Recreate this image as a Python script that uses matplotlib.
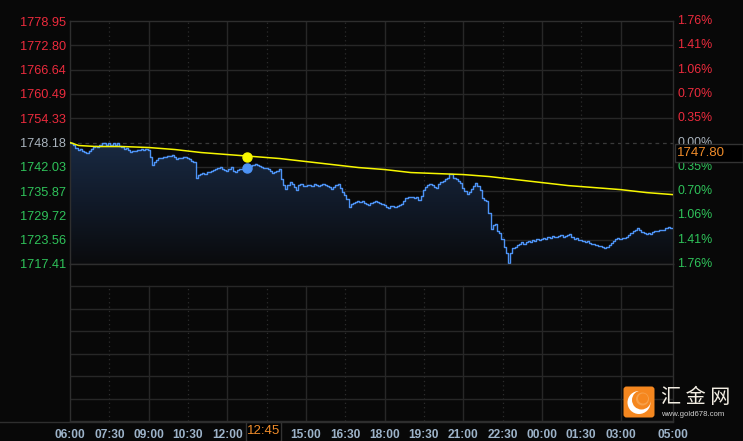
import numpy as np
import matplotlib
matplotlib.use('Agg')
import matplotlib.pyplot as plt
from matplotlib.colors import LinearSegmentedColormap
from matplotlib.patches import FancyBboxPatch, Rectangle, Circle
from matplotlib.lines import Line2D

# price ticks (left) and percent labels (right)
base = 1748.18
price_ticks = [1778.95, 1772.80, 1766.64, 1760.49, 1754.33, 1748.18,
               1742.03, 1735.87, 1729.72, 1723.56, 1717.41]
pct_labels = ['1.76%', '1.41%', '1.06%', '0.70%', '0.35%', '0.00%',
              '0.35%', '0.70%', '1.06%', '1.41%', '1.76%']

# x axis: hours after 06:00
xtick_pos = [0, 1.5, 3, 4.5, 6, 9, 10.5, 12, 13.5, 15, 16.5, 18, 19.5, 21, 23]
xtick_lbl = ['06:00', '07:30', '09:00', '10:30', '12:00', '15:00', '16:30', '18:00',
             '19:30', '21:00', '22:30', '00:00', '01:30', '03:00', '05:00']
solid_v = [3, 6, 9, 12, 15, 18, 21]
dotted_v = [1.5, 4.5, 7.5, 10.5, 13.5, 16.5, 19.5]

# gold price, one value every 5 minutes from 06:00
price = [
    1747.93, 1748.18, 1747.67, 1746.91, 1746.40, 1746.66, 1746.15, 1745.90, 1745.64, 1746.15, 1746.66, 1747.16,
    1747.42, 1747.16, 1747.67, 1747.93, 1748.18, 1747.67, 1747.93, 1747.67, 1747.93, 1747.67, 1747.93, 1747.42,
    1747.16, 1746.66, 1746.91, 1746.40, 1745.90, 1746.15, 1746.15, 1746.40, 1746.40, 1746.66, 1746.40, 1746.66,
    1746.40, 1744.63, 1742.60, 1743.36, 1743.87, 1744.37, 1744.37, 1744.63, 1744.63, 1744.88, 1744.88, 1745.13,
    1744.63, 1744.12, 1744.37, 1744.37, 1744.63, 1744.63, 1744.37, 1744.12, 1743.61, 1743.36, 1739.30, 1740.06,
    1740.31, 1740.57, 1740.31, 1740.82, 1740.82, 1741.07, 1741.33, 1741.58, 1741.84, 1742.09, 1741.58, 1741.33,
    1741.07, 1741.58, 1742.09, 1741.07, 1740.82, 1741.33, 1741.58, 1741.58, 1741.84, 1741.84, 1742.09, 1742.34,
    1742.60, 1742.85, 1742.60, 1742.34, 1742.09, 1741.84, 1741.84, 1741.58, 1741.07, 1740.57, 1740.82, 1741.07,
    1741.58, 1739.04, 1737.52, 1736.51, 1737.52, 1738.28, 1737.77, 1737.01, 1736.25, 1737.52, 1737.77, 1737.27,
    1737.27, 1737.52, 1737.52, 1737.27, 1737.77, 1737.52, 1737.27, 1737.52, 1737.77, 1737.52, 1737.27, 1737.01,
    1736.51, 1737.01, 1737.52, 1737.77, 1736.76, 1735.74, 1734.98, 1733.97, 1731.94, 1732.70, 1732.95, 1733.21,
    1733.46, 1733.21, 1733.46, 1732.95, 1732.70, 1732.44, 1732.95, 1733.21, 1733.46, 1733.21, 1732.95, 1732.70,
    1732.44, 1731.94, 1731.68, 1732.19, 1732.19, 1731.94, 1732.19, 1732.44, 1732.70, 1733.46, 1734.22, 1734.47,
    1734.47, 1734.47, 1734.22, 1734.47, 1733.71, 1734.73, 1736.25, 1737.01, 1737.52, 1737.77, 1737.52, 1737.01,
    1736.76, 1737.77, 1738.28, 1738.54, 1739.04, 1739.30, 1740.31, 1740.31, 1739.30, 1739.04, 1738.54, 1738.03,
    1736.76, 1736.00, 1735.24, 1735.74, 1736.51, 1737.27, 1738.03, 1737.27, 1736.25, 1734.22, 1733.71, 1733.46,
    1730.41, 1726.35, 1727.37, 1727.62, 1725.85, 1725.34, 1723.82, 1721.78, 1720.26, 1717.72, 1720.26, 1721.53,
    1721.78, 1722.29, 1722.55, 1723.05, 1722.55, 1723.05, 1723.31, 1723.05, 1723.56, 1723.31, 1723.82, 1723.56,
    1723.82, 1724.07, 1723.82, 1724.32, 1724.07, 1724.58, 1724.32, 1724.32, 1724.58, 1724.83, 1724.32, 1724.58,
    1724.83, 1725.08, 1724.32, 1723.82, 1724.07, 1723.56, 1723.56, 1723.31, 1723.05, 1723.31, 1722.80, 1722.55,
    1722.55, 1722.29, 1722.04, 1722.04, 1721.78, 1721.53, 1721.78, 1722.29, 1722.80, 1723.31, 1723.82, 1724.07,
    1723.82, 1724.07, 1724.07, 1724.32, 1724.83, 1725.34, 1725.85, 1726.10, 1726.61, 1726.10, 1725.59, 1725.34,
    1725.08, 1725.34, 1725.08, 1725.59, 1725.85, 1725.85, 1726.10, 1726.10, 1726.10, 1726.61, 1726.86, 1726.61,
    1726.61,
]
t = np.arange(len(price)) * 5 / 60.0

# average price line
avg_t = [0, 0.33, 1, 2, 3, 4, 5, 6, 7, 8, 9, 10, 11, 12, 13, 14, 15, 16, 17, 18, 19, 20, 21, 22, 23]
avg_p = [1748.18, 1747.42, 1747.16, 1747.16, 1746.91, 1746.40, 1745.64, 1745.13, 1744.63, 1744.12,
         1743.36, 1742.60, 1741.84, 1741.33, 1740.57, 1740.31, 1740.06, 1739.55, 1738.79, 1738.03,
         1737.27, 1736.76, 1736.25, 1735.49, 1734.98]

cross_t = 6.75
cross_avg = 1744.63
cross_price = 1741.84
cursor_price = '1747.80'
cursor_time = '12:45'

BG = '#080808'
GRID = '#272727'
RED = '#ec2b3d'
GREEN = '#2fc35a'
GRAY = '#a9b3bd'
XLAB = '#9db3c9'
BLUE = '#4d93f5'
YEL = '#f7f700'
ORANGE = '#f08c2a'

W, H = 743, 441
fig = plt.figure(figsize=(W / 100, H / 100), dpi=100, facecolor=BG)

def fx(px):
    return px / W

def fy(py):
    return 1 - py / H

L, R = 70, 673
ax = fig.add_axes([fx(L), fy(264), fx(R - L), (264 - 21) / H], facecolor=BG)
ax2 = fig.add_axes([fx(L), fy(421), fx(R - L), (421 - 264) / H], facecolor=BG)

ymin, ymax = price_ticks[-1], price_ticks[0]
for a in (ax, ax2):
    a.set_xlim(0, 23)
    for s in a.spines.values():
        s.set_color('#2e2e2e')
        s.set_linewidth(1)

ax.set_ylim(ymin, ymax)

# grid, main panel
for p in price_ticks[1:-1]:
    if p == base:
        ax.axhline(p, color='#3a3a3a', lw=0.9, ls=(0, (3, 3)), zorder=0.5)
    else:
        ax.axhline(p, color=GRID, lw=1, zorder=0.5)
for v in solid_v:
    ax.axvline(v, color=GRID, lw=1, zorder=0.5)
    ax2.axvline(v, ymax=6 / 7, color=GRID, lw=1, zorder=0.5)
for v in dotted_v:
    ax.axvline(v, color='#2c2c2c', lw=0.9, ls=(0, (1, 2.5)), zorder=0.5)
    ax2.axvline(v, ymax=6 / 7, color='#2c2c2c', lw=0.9, ls=(0, (1, 2.5)), zorder=0.5)

# lower panel grid
ax2.set_ylim(0, 7)
for k in range(1, 7):
    ax2.axhline(k, color=GRID, lw=1, zorder=0.5)

# gradient fill under price line
cmap = LinearSegmentedColormap.from_list('fillgrad', ['#0a0b0d', '#111a29', '#192a43'])
grad = np.linspace(0, 1, 256).reshape(-1, 1)
img = ax.imshow(grad, extent=[0, 23, ymin, 1748.6], origin='lower', aspect='auto',
                cmap=cmap, zorder=1)
poly = ax.fill_between(t, price, ymin, step='mid', color='none', lw=0)
img.set_clip_path(poly.get_paths()[0], transform=ax.transData)
ax.set_ylim(ymin, ymax)
ax.set_xlim(0, 23)

ax.plot(t, price, color=BLUE, lw=1.0, drawstyle='steps-mid', zorder=3)
ax.plot(avg_t, avg_p, color=YEL, lw=1.1, zorder=3)
ax.plot([cross_t], [cross_avg], 'o', color=YEL, ms=6.5, zorder=4)
ax.plot([cross_t], [cross_price], 'o', color=BLUE, ms=6.5, zorder=4)

# left tick labels
ax.set_yticks(price_ticks)
ax.set_yticklabels(['%.2f' % p for p in price_ticks], fontsize=9.2, family='Liberation Sans')
ax.tick_params(axis='y', length=0, pad=3)
ax.set_xticks([])
for lbl, p in zip(ax.get_yticklabels(), price_ticks):
    lbl.set_color(RED if p > base else (GREEN if p < base else GRAY))

# right percent labels
for p, s in zip(price_ticks, pct_labels):
    c = RED if p > base else (GREEN if p < base else GRAY)
    ax.text(1 + 4 / (R - L), p, s, transform=ax.get_yaxis_transform(), fontsize=8.9,
            family='Liberation Sans', color=c, va='center', ha='left')

# x tick labels on lower panel
ax2.set_yticks([])
ax2.set_xticks(xtick_pos)
ax2.set_xticklabels(xtick_lbl, fontsize=8.6, family='Liberation Sans', weight='bold', color=XLAB)
ax2.tick_params(axis='x', length=0, pad=5.5)

# bottom line across the figure
fig.add_artist(Line2D([0, fx(R)], [fy(421.5), fy(421.5)], color='#2e2e2e', lw=1))

# cursor price box
fig.add_artist(Rectangle((fx(675), fy(162)), fx(68), 18 / H, facecolor='#000000',
                         edgecolor='#333333', lw=1))
fig.text(fx(677), fy(153), cursor_price, fontsize=9.5, family='Liberation Sans',
         color=ORANGE, va='center', ha='left')

# cursor time box
fig.add_artist(Rectangle((fx(246), fy(441)), fx(35), 19 / H, facecolor='#000000',
                         edgecolor='#333333', lw=1))
fig.text(fx(263.5), fy(431.5), cursor_time, fontsize=9.5, family='Liberation Sans',
         color=ORANGE, va='center', ha='center')

# logo
lx = fig.add_axes([fx(623), fy(418), fx(32), 32 / H])
lx.set_xlim(0, 32)
lx.set_ylim(0, 32)
lx.axis('off')
lx.add_patch(FancyBboxPatch((0.5, 0.5), 31, 31, boxstyle='round,pad=0,rounding_size=3',
                            facecolor='#f5871f', edgecolor='none'))
lx.add_patch(Circle((16, 15.5), 11.5, facecolor='#ffffff', edgecolor='none'))
lx.add_patch(Circle((18.5, 18), 9.5, facecolor='#f5871f', edgecolor='none'))
lx.add_patch(Circle((19.5, 19), 6.5, facecolor='#f7a04a', edgecolor='none'))
lx.add_patch(Circle((20, 19.5), 5, facecolor='#f5871f', edgecolor='none'))

fig.text(fx(661), fy(397.5), '汇 金 网', fontsize=14.5, family=['Noto Sans CJK SC', 'DejaVu Sans'],
         color='#f2ede2', va='center', ha='left')
fig.text(fx(661), fy(414), 'www.gold678.com', fontsize=5.6, family='Liberation Sans',
         color='#cfcfcf', va='center', ha='left')

fig.savefig('out.png', dpi=100, facecolor=BG)
